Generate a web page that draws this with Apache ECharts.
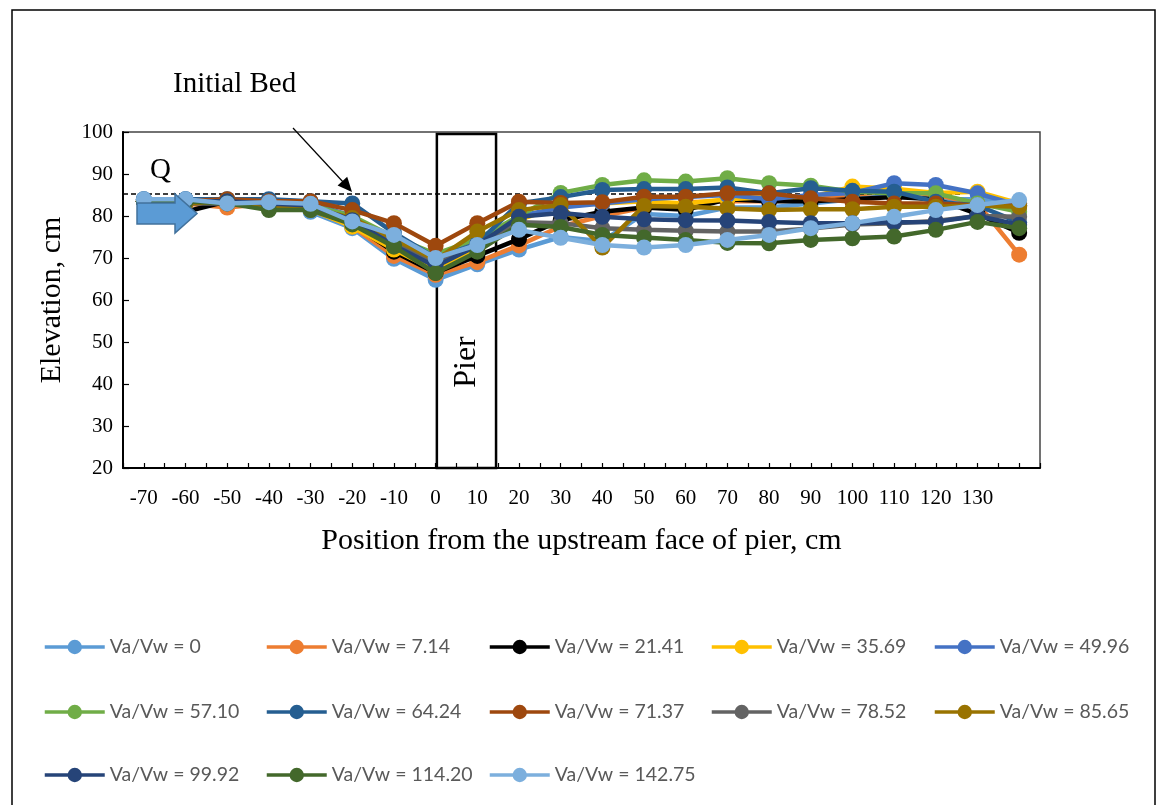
<!DOCTYPE html>
<html>
<head>
<meta charset="utf-8">
<script src="https://cdn.jsdelivr.net/npm/echarts@6/dist/echarts.min.js"></script>
<style>html,body{margin:0;padding:0;background:#fff;}#c{width:1157px;height:805px;}</style>
</head>
<body>
<div id="c"></div>
<script>
const positions = [-70,-60,-50,-40,-30,-20,-10,0,10,20,30,40,50,60,70,80,90,100,110,120,130,140];
const seriesNames = ['Va/Vw = 0','Va/Vw = 7.14','Va/Vw = 21.41','Va/Vw = 35.69','Va/Vw = 49.96','Va/Vw = 57.10','Va/Vw = 64.24','Va/Vw = 71.37','Va/Vw = 78.52','Va/Vw = 85.65','Va/Vw = 99.92','Va/Vw = 114.20','Va/Vw = 142.75'];
const seriesColors = ['#5B9BD5','#ED7D31','#000000','#FFC000','#4472C4','#70AD47','#255E91','#9E480E','#636363','#997300','#264478','#43682B','#7CAFDD'];
const v0      = [84,84,83,83.5,81,77.1,69.8,64.8,68.5,72,75,74,80.5,80,82,82,83,84,85,84,84,83];
const v7_14   = [83.5,83,82,83,81.5,77.5,70.5,66,69,73,77.5,80,82,83.3,83.5,83.5,84,85,86,85,83,70.8];
const v21_41  = [83.5,81,83.5,83,81.5,78,71.5,66.5,70.5,74.5,79,81,82,81.5,84,83.5,83.5,84,84.5,84,80.5,76];
const v35_69  = [83.5,83,83.5,82,81.5,77.5,72,67,72,79,82.5,83,83.5,83,84,84.5,84.5,87,86.5,85.5,85.8,83];
const v49_96  = [83.5,83.5,83.5,83.5,83,80,74,69,73,80,82,83,84,84.5,85,84,85,85.5,87.8,87.4,85.4,82.5];
const v57_10  = [83.5,83.5,83.5,83,82.5,80,75,71,74.5,80,85.5,87.4,88.5,88.2,89,87.8,87.2,85.8,85.4,85.4,83,81];
const v64_24  = [84,84,84,84,83.5,83,76,70,73.5,83,84.5,86.2,86.4,86.4,86.8,85.4,86.6,86,85.8,83.4,82.5,78.5];
const v71_37  = [83.5,83.5,84,83.5,83.5,81.4,78.3,72.9,78.3,83.4,83.1,83.3,84.6,84.6,85.4,85.4,84.2,83.4,83,83,82.5,82.5];
const v78_52  = [83.5,83,83,82.5,82,79,74,68.5,73,78.5,78.3,77.1,76.7,76.5,76.3,76.3,77,78,78.3,78.8,80,79.8];
const v85_65  = [83.5,83,83.5,82,82,79.5,74.5,69.5,76.3,81.4,82.6,72.5,82.4,82.2,81.8,81.4,81.6,81.6,82.2,82.2,82.5,82.2];
const v99_92  = [83.5,83.5,83.5,83,82.5,79,73,68,73,79.8,80.7,79.8,79.2,79,78.9,78.6,78.3,78.3,78.5,78.6,80,77.9];
const v114_20 = [83.5,83.5,83,81.4,81.4,78,72.7,66.4,71.5,77.9,77.4,75.5,74.9,74.3,73.6,73.5,74.3,74.7,75.1,76.7,78.6,77.1];
const v142_75 = [84,84,83,83.3,82.9,78.7,75.5,70,73.1,76.7,74.8,73.1,72.5,73.1,74.3,75.5,77.1,78.3,79.8,81.4,82.6,83.8];
const allValues = [v0,v7_14,v21_41,v35_69,v49_96,v57_10,v64_24,v71_37,v78_52,v85_65,v99_92,v114_20,v142_75];
const yTicks = [20,30,40,50,60,70,80,90,100];
const initialBed = 85.3;
const pierFrom = 0.3, pierTo = 14.5;

const serif = "'Liberation Serif', 'DejaVu Serif', serif";
const chart = echarts.init(document.getElementById('c'), null, {renderer:'canvas'});

const series = allValues.map((vals, i) => ({
  name: seriesNames[i],
  type: 'line',
  data: positions.map((p, j) => [p, vals[j]]),
  symbol: 'circle',
  symbolSize: 16,
  showSymbol: true,
  color: seriesColors[i],
  lineStyle: {width: 4.5, color: seriesColors[i]},
  itemStyle: {color: seriesColors[i]},
  emphasis: {disabled: true},
  z: 2 + i
}));
series.push({
  name: 'helper',
  type: 'line',
  data: [],
  z: 30,
  silent: true,
  markArea: {
    silent: true,
    itemStyle: {color: 'rgba(0,0,0,0)', borderColor: '#000', borderWidth: 2.5},
    label: {show: false},
    data: [[{xAxis: pierFrom, yAxis: 20}, {xAxis: pierTo, yAxis: 99.5}]]
  },
  markLine: {
    silent: true,
    symbol: ['none','none'],
    label: {show: false},
    lineStyle: {color: '#000', type: [5,3], width: 1.5},
    data: [[{coord: [-75, initialBed]}, {coord: [126, initialBed]}]]
  }
});

const colLeft = [43, 265, 488, 710, 933];
const rowTop = [637, 702, 765];
const legends = seriesNames.map((n, i) => ({
  data: [n],
  left: colLeft[i % 5],
  top: rowTop[Math.floor(i / 5)],
  orient: 'horizontal',
  itemWidth: 60,
  itemHeight: 18,
  itemGap: 0,
  padding: 0,
  selectedMode: false,
  lineStyle: {width: 3.5},
  textStyle: {fontFamily: "Lato, 'Liberation Sans', sans-serif", fontSize: 19.5, color: '#595959'}
}));

// block arrow "Q"
const qArrow = [[137,203],[175,203],[175,194],[197,213.5],[175,233],[175,224],[137,224]];

chart.setOption({
  animation: false,
  backgroundColor: '#fff',
  legend: legends,
  grid: {left: 123, right: 117, top: 132, bottom: 337, show: true, borderColor: '#444', borderWidth: 1.5, backgroundColor: 'transparent'},
  xAxis: {
    type: 'value',
    min: -75, max: 145, interval: 5,
    name: 'Position from the upstream face of pier, cm',
    nameLocation: 'middle',
    nameGap: 58,
    nameTextStyle: {fontFamily: serif, fontSize: 30, color: '#000'},
    axisLine: {show: true, onZero: false, lineStyle: {color: '#000', width: 2}},
    axisTick: {show: true, inside: true, length: 5, lineStyle: {color: '#000', width: 1.2}},
    splitLine: {show: false},
    axisLabel: {
      margin: 20,
      fontFamily: serif, fontSize: 21, color: '#000',
      formatter: v => (v % 10 === 0 && v >= -70 && v <= 130) ? String(v) : ''
    }
  },
  yAxis: {
    type: 'value',
    min: 20, max: 100, interval: 10,
    name: 'Elevation, cm',
    nameLocation: 'middle',
    nameGap: 56,
    nameTextStyle: {fontFamily: serif, fontSize: 30, color: '#000'},
    axisLine: {show: true, onZero: false, lineStyle: {color: '#000', width: 2}},
    axisTick: {show: true, inside: true, length: 6, lineStyle: {color: '#000', width: 1.2}},
    splitLine: {show: false},
    axisLabel: {margin: 10, fontFamily: serif, fontSize: 21, color: '#000',
      formatter: v => yTicks.includes(v) ? String(v) : ''}
  },
  graphic: [
    {type: 'rect', shape: {x: 12, y: 10, width: 1143, height: 820}, style: {fill: 'none', stroke: '#000', lineWidth: 1.5}, z: 100, silent: true},
    {type: 'text', left: 173, top: 70, style: {text: 'Initial Bed', fontFamily: serif, fontSize: 29, fill: '#000'}, z: 100},
    {type: 'text', left: 150, top: 156, style: {text: 'Q', fontFamily: serif, fontSize: 29, fill: '#000'}, z: 100},
    {type: 'line', shape: {x1: 293, y1: 128, x2: 344, y2: 183}, style: {stroke: '#000', lineWidth: 1.2}, z: 100, silent: true},
    {type: 'polygon', shape: {points: [[352,192],[337.6,185.6],[347.2,176.8]]}, style: {fill: '#000'}, z: 100, silent: true},
    {type: 'polygon', shape: {points: qArrow}, style: {fill: '#5B9BD5', stroke: '#41719C', lineWidth: 1.5}, z: 100, silent: true},
    {type: 'text', x: 467, y: 362, rotation: Math.PI / 2, style: {text: 'Pier', fontFamily: serif, fontSize: 32, fill: '#000', align: 'center', verticalAlign: 'middle'}, z: 100}
  ],
  series: series
});
</script>
</body>
</html>
